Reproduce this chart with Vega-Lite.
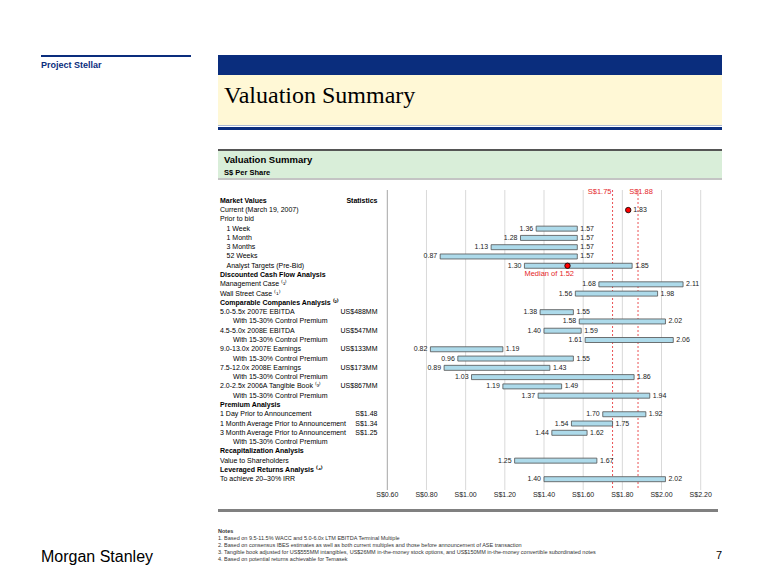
{
  "$schema": "https://vega.github.io/schema/vega-lite/v6.json",
  "background": "white",
  "padding": {"left": 41, "top": 55, "right": 0, "bottom": 0},
  "config": {"view": {"stroke": null}, "font": "Liberation Sans"},
  "datasets": {
    "rows": [
      {"row": 1, "label": "Market Values", "stat": "Statistics", "section": true, "indent": 0},
      {"row": 2, "label": "Current (March 19, 2007)", "indent": 0, "section": false, "point": 1.83},
      {"row": 3, "label": "Prior to bid", "indent": 0, "section": false},
      {"row": 4, "label": "1 Week", "indent": 1, "section": false, "low": 1.36, "high": 1.57},
      {"row": 5, "label": "1 Month", "indent": 1, "section": false, "low": 1.28, "high": 1.57},
      {"row": 6, "label": "3 Months", "indent": 1, "section": false, "low": 1.13, "high": 1.57},
      {"row": 7, "label": "52 Weeks", "indent": 1, "section": false, "low": 0.87, "high": 1.57},
      {"row": 8, "label": "Analyst Targets (Pre-Bid)", "indent": 1, "section": false, "low": 1.30, "high": 1.85, "median": 1.52, "note": "Median of 1.52"},
      {"row": 9, "label": "Discounted Cash Flow Analysis", "indent": 0, "section": true},
      {"row": 10, "label": "Management Case ⁽¹⁾", "indent": 0, "section": false, "low": 1.68, "high": 2.11},
      {"row": 11, "label": "Wall Street Case ⁽¹⁾", "indent": 0, "section": false, "low": 1.56, "high": 1.98},
      {"row": 12, "label": "Comparable Companies Analysis ⁽²⁾", "indent": 0, "section": true},
      {"row": 13, "label": "5.0-5.5x 2007E EBITDA", "stat": "US$488MM", "indent": 0, "section": false, "low": 1.38, "high": 1.55},
      {"row": 14, "label": "With 15-30% Control Premium", "indent": 2, "section": false, "low": 1.58, "high": 2.02},
      {"row": 15, "label": "4.5-5.0x 2008E EBITDA", "stat": "US$547MM", "indent": 0, "section": false, "low": 1.40, "high": 1.59},
      {"row": 16, "label": "With 15-30% Control Premium", "indent": 2, "section": false, "low": 1.61, "high": 2.06},
      {"row": 17, "label": "9.0-13.0x 2007E Earnings", "stat": "US$133MM", "indent": 0, "section": false, "low": 0.82, "high": 1.19},
      {"row": 18, "label": "With 15-30% Control Premium", "indent": 2, "section": false, "low": 0.96, "high": 1.55},
      {"row": 19, "label": "7.5-12.0x 2008E Earnings", "stat": "US$173MM", "indent": 0, "section": false, "low": 0.89, "high": 1.43},
      {"row": 20, "label": "With 15-30% Control Premium", "indent": 2, "section": false, "low": 1.03, "high": 1.86},
      {"row": 21, "label": "2.0-2.5x 2006A Tangible Book ⁽³⁾", "stat": "US$867MM", "indent": 0, "section": false, "low": 1.19, "high": 1.49},
      {"row": 22, "label": "With 15-30% Control Premium", "indent": 2, "section": false, "low": 1.37, "high": 1.94},
      {"row": 23, "label": "Premium Analysis", "indent": 0, "section": true},
      {"row": 24, "label": "1 Day Prior to Announcement", "stat": "S$1.48", "indent": 0, "section": false, "low": 1.70, "high": 1.92},
      {"row": 25, "label": "1 Month Average Prior to Announcement", "stat": "S$1.34", "indent": 0, "section": false, "low": 1.54, "high": 1.75},
      {"row": 26, "label": "3 Month Average Prior to Announcement", "stat": "S$1.25", "indent": 0, "section": false, "low": 1.44, "high": 1.62},
      {"row": 27, "label": "With 15-30% Control Premium", "indent": 2, "section": false},
      {"row": 28, "label": "Recapitalization Analysis", "indent": 0, "section": true},
      {"row": 29, "label": "Value to Shareholders", "indent": 0, "section": false, "low": 1.25, "high": 1.67},
      {"row": 30, "label": "Leveraged Returns Analysis ⁽⁴⁾", "indent": 0, "section": true},
      {"row": 31, "label": "To achieve 20–30% IRR", "indent": 0, "section": false, "low": 1.40, "high": 2.02}
    ],
    "targets": [
      {"price": 1.75, "label": "S$1.75"},
      {"price": 1.88, "label": "S$1.88"}
    ],
    "ticks": [
      {"tick": 0.6, "text": "S$0.60"},
      {"tick": 0.8, "text": "S$0.80"},
      {"tick": 1.0, "text": "S$1.00"},
      {"tick": 1.2, "text": "S$1.20"},
      {"tick": 1.4, "text": "S$1.40"},
      {"tick": 1.6, "text": "S$1.60"},
      {"tick": 1.8, "text": "S$1.80"},
      {"tick": 2.0, "text": "S$2.00"},
      {"tick": 2.2, "text": "S$2.20"}
    ],
    "notes": [
      {"line": 0, "text": "Notes", "head": true},
      {"line": 1, "text": "1.  Based on 9.5-11.5% WACC and 5.0-6.0x LTM EBITDA Terminal Multiple", "head": false},
      {"line": 2, "text": "2.  Based on consensus IBES estimates as well as both current multiples and those before announcement of ASE transaction", "head": false},
      {"line": 3, "text": "3.  Tangible book adjusted for US$555MM intangibles, US$26MM in-the-money stock options, and US$150MM in-the-money convertible subordinated notes", "head": false},
      {"line": 4, "text": "4.  Based on potential returns achievable for Temasek", "head": false}
    ]
  },
  "columns": 2,
  "spacing": 0,
  "bounds": "flush",
  "align": "each",
  "concat": [
    {
      "width": 150, "height": 2,
      "data": {"values": [{"part": "rule"}]},
      "mark": {"type": "rect", "color": "#0A2D7D"},
      "encoding": {},
      "title": {"text": "Project Stellar", "orient": "bottom", "anchor": "start", "offset": 4, "fontSize": 9, "fontWeight": "bold", "color": "#0A2D7D", "font": "Liberation Sans"}
    },
    {
      "width": 504, "height": 20,
      "data": {"values": [{"part": "banner"}]},
      "mark": {"type": "rect", "color": "#0A2D7D"},
      "encoding": {}
    },

    {"width": 177, "height": 1, "data": {"values": []}, "mark": "rect", "encoding": {}},
    {
      "width": 504, "height": 50,
      "view": {"fill": "#FFF8D6"},
      "data": {"values": [{"heading": "Valuation Summary"}]},
      "mark": {"type": "text", "align": "left", "baseline": "middle", "font": "Liberation Serif", "fontSize": 24, "color": "#000000", "dx": 6},
      "encoding": {
        "text": {"field": "heading"},
        "x": {"datum": 0, "type": "quantitative", "scale": {"domain": [0, 1]}, "axis": null},
        "y": {"datum": 0.42, "type": "quantitative", "scale": {"domain": [0, 1], "reverse": true}, "axis": null}
      }
    },

    {"width": 177, "height": 2, "data": {"values": []}, "mark": "rect", "encoding": {}},
    {
      "width": 504, "height": 1,
      "data": {"values": [{"part": "rule"}]},
      "mark": {"type": "rect", "color": "#A9B8D2"},
      "encoding": {}
    },

    {"width": 177, "height": 22, "data": {"values": []}, "mark": "rect", "encoding": {}},
    {
      "width": 504, "height": 3,
      "data": {"values": [{"part": "rule"}]},
      "mark": {"type": "rect", "color": "#0A2D7D"},
      "encoding": {}
    },

    {"width": 177, "height": 1, "data": {"values": []}, "mark": "rect", "encoding": {}},
    {
      "width": 504, "height": 2,
      "data": {"values": [{"part": "rule"}]},
      "mark": {"type": "rect", "color": "#555555"},
      "encoding": {}
    },

    {"width": 177, "height": 1, "data": {"values": []}, "mark": "rect", "encoding": {}},
    {
      "width": 504, "height": 27,
      "view": {"fill": "#D9EED9"},
      "data": {"values": [{"title": "Valuation Summary", "subtitle": "S$ Per Share"}]},
      "layer": [
        {
          "mark": {"type": "text", "align": "left", "baseline": "middle", "fontSize": 9.5, "fontWeight": "bold", "color": "#000000", "dx": 6},
          "encoding": {
            "text": {"field": "title"},
            "x": {"datum": 0, "type": "quantitative", "scale": {"domain": [0, 1]}, "axis": null},
            "y": {"datum": 0.33, "type": "quantitative", "scale": {"domain": [0, 1], "reverse": true}, "axis": null}
          }
        },
        {
          "mark": {"type": "text", "align": "left", "baseline": "middle", "fontSize": 7.5, "fontWeight": "bold", "color": "#000000", "dx": 6},
          "encoding": {
            "text": {"field": "subtitle"},
            "x": {"datum": 0, "type": "quantitative", "scale": {"domain": [0, 1]}, "axis": null},
            "y": {"datum": 0.8, "type": "quantitative", "scale": {"domain": [0, 1], "reverse": true}, "axis": null}
          }
        }
      ]
    },

    {"width": 177, "height": 12, "data": {"values": []}, "mark": "rect", "encoding": {}},
    {
      "width": 504, "height": 2,
      "data": {"values": [{"part": "rule"}]},
      "mark": {"type": "rect", "color": "#C4C4C4"},
      "encoding": {}
    },

    {"width": 177, "height": 319, "data": {"values": []}, "mark": "rect", "encoding": {}},
    {
      "width": 504, "height": 300,
      "resolve": {"scale": {"x": "independent"}},
      "layer": [
        {
          "data": {"name": "rows"},
          "layer": [
            {
              "transform": [{"filter": "!datum.section"}],
              "mark": {"type": "text", "align": "left", "baseline": "middle", "fontSize": 7, "color": "#000000"},
              "encoding": {
                "text": {"field": "label"},
                "x": {"field": "indent", "type": "quantitative", "scale": {"domain": [0, 2], "range": [2, 15]}, "axis": null},
                "y": {"field": "row", "type": "quantitative", "scale": {"domain": [0.375, 31.625], "reverse": true, "nice": false, "zero": false}, "axis": null}
              }
            },
            {
              "transform": [{"filter": "datum.section"}],
              "mark": {"type": "text", "align": "left", "baseline": "middle", "fontSize": 7, "fontWeight": "bold", "color": "#000000"},
              "encoding": {
                "text": {"field": "label"},
                "x": {"field": "indent", "type": "quantitative", "axis": null},
                "y": {"field": "row", "type": "quantitative", "axis": null}
              }
            }
          ]
        },
        {
          "layer": [
            {
              "data": {"name": "ticks"},
              "mark": {"type": "rule", "strokeWidth": 1},
              "encoding": {
                "x": {"field": "tick", "type": "quantitative", "scale": {"domain": [0.6, 2.2], "range": [169.3, 482.7], "nice": false, "zero": false}, "axis": null},
                "color": {"condition": {"test": "datum.tick < 0.65", "value": "#A6A6A6"}, "value": "#D9D9D9"}
              }
            },
            {
              "data": {"name": "ticks"},
              "mark": {"type": "text", "align": "center", "baseline": "middle", "fontSize": 7, "color": "#222222"},
              "encoding": {
                "text": {"field": "text"},
                "x": {"field": "tick", "type": "quantitative", "axis": null},
                "y": {"datum": 32.65, "type": "quantitative", "axis": null}
              }
            },
            {
              "data": {"name": "targets"},
              "mark": {"type": "rule", "color": "#E5262A", "strokeDash": [2, 2], "strokeWidth": 0.8},
              "encoding": {
                "x": {"field": "price", "type": "quantitative", "axis": null}
              }
            },
            {
              "data": {"name": "rows"},
              "transform": [{"filter": "datum.low != null"}],
              "mark": {"type": "bar", "size": 5, "fill": "#ADDAEA", "stroke": "#505050", "strokeWidth": 0.8},
              "encoding": {
                "x": {"field": "low", "type": "quantitative", "axis": null},
                "x2": {"field": "high"},
                "y": {"field": "row", "type": "quantitative", "scale": {"domain": [0.375, 31.625], "reverse": true, "nice": false, "zero": false}, "axis": null}
              }
            },
            {
              "data": {"name": "targets"},
              "transform": [{"filter": "datum.price < 1.8"}],
              "mark": {"type": "text", "align": "right", "baseline": "middle", "fontSize": 7.5, "color": "#E5262A", "dx": -1},
              "encoding": {
                "text": {"field": "label"},
                "x": {"field": "price", "type": "quantitative", "axis": null},
                "y": {"datum": 0, "type": "quantitative", "axis": null}
              }
            },
            {
              "data": {"name": "targets"},
              "transform": [{"filter": "datum.price > 1.8"}],
              "mark": {"type": "text", "align": "center", "baseline": "middle", "fontSize": 7.5, "color": "#E5262A", "dx": 3},
              "encoding": {
                "text": {"field": "label"},
                "x": {"field": "price", "type": "quantitative", "axis": null},
                "y": {"datum": 0, "type": "quantitative", "axis": null}
              }
            },
            {
              "data": {"name": "rows"},
              "transform": [{"filter": "datum.low != null"}],
              "mark": {"type": "text", "align": "right", "baseline": "middle", "fontSize": 7, "color": "#222222", "dx": -3},
              "encoding": {
                "text": {"field": "low", "type": "quantitative", "format": ".2f"},
                "x": {"field": "low", "type": "quantitative", "axis": null},
                "y": {"field": "row", "type": "quantitative", "axis": null}
              }
            },
            {
              "data": {"name": "rows"},
              "transform": [{"filter": "datum.high != null"}],
              "mark": {"type": "text", "align": "left", "baseline": "middle", "fontSize": 7, "color": "#222222", "dx": 3},
              "encoding": {
                "text": {"field": "high", "type": "quantitative", "format": ".2f"},
                "x": {"field": "high", "type": "quantitative", "axis": null},
                "y": {"field": "row", "type": "quantitative", "axis": null}
              }
            },
            {
              "data": {"name": "rows"},
              "transform": [{"filter": "datum.stat != null && !datum.section"}],
              "mark": {"type": "text", "align": "right", "baseline": "middle", "fontSize": 7, "color": "#000000", "dx": -9.8},
              "encoding": {
                "text": {"field": "stat"},
                "x": {"datum": 0.6, "type": "quantitative", "axis": null},
                "y": {"field": "row", "type": "quantitative", "axis": null}
              }
            },
            {
              "data": {"name": "rows"},
              "transform": [{"filter": "datum.stat != null && datum.section"}],
              "mark": {"type": "text", "align": "right", "baseline": "middle", "fontSize": 7, "fontWeight": "bold", "color": "#000000", "dx": -9.8},
              "encoding": {
                "text": {"field": "stat"},
                "x": {"datum": 0.6, "type": "quantitative", "axis": null},
                "y": {"field": "row", "type": "quantitative", "axis": null}
              }
            },
            {
              "data": {"name": "rows"},
              "transform": [{"filter": "datum.point != null"}],
              "layer": [
                {
                  "mark": {"type": "circle", "size": 30, "fill": "#FF0000", "stroke": "#000000", "strokeWidth": 0.8, "opacity": 1},
                  "encoding": {
                    "x": {"field": "point", "type": "quantitative", "axis": null},
                    "y": {"field": "row", "type": "quantitative", "axis": null}
                  }
                },
                {
                  "mark": {"type": "text", "align": "left", "baseline": "middle", "fontSize": 7, "color": "#222222", "dx": 5},
                  "encoding": {
                    "text": {"field": "point", "type": "quantitative", "format": ".2f"},
                    "x": {"field": "point", "type": "quantitative", "axis": null},
                    "y": {"field": "row", "type": "quantitative", "axis": null}
                  }
                }
              ]
            },
            {
              "data": {"name": "rows"},
              "transform": [{"filter": "datum.median != null"}],
              "layer": [
                {
                  "mark": {"type": "circle", "size": 30, "fill": "#FF0000", "stroke": "#000000", "strokeWidth": 0.8, "opacity": 1},
                  "encoding": {
                    "x": {"field": "median", "type": "quantitative", "axis": null},
                    "y": {"field": "row", "type": "quantitative", "axis": null}
                  }
                },
                {
                  "mark": {"type": "text", "align": "left", "baseline": "middle", "fontSize": 7.5, "color": "#E5262A", "dy": 8},
                  "encoding": {
                    "text": {"field": "note"},
                    "x": {"field": "low", "type": "quantitative", "axis": null},
                    "y": {"field": "row", "type": "quantitative", "axis": null}
                  }
                }
              ]
            }
          ]
        }
      ]
    },

    {"width": 177, "height": 18, "data": {"values": []}, "mark": "rect", "encoding": {}},
    {
      "width": 500, "height": 3,
      "data": {"values": [{"part": "rule"}]},
      "mark": {"type": "rect", "color": "#808080"},
      "encoding": {}
    },

    {
      "width": 150, "height": 35,
      "data": {"values": [{"firm": "Morgan Stanley"}]},
      "mark": {"type": "text", "align": "left", "baseline": "alphabetic", "font": "Liberation Sans", "fontSize": 16, "letterSpacing": -0.4, "color": "#000000"},
      "encoding": {
        "text": {"field": "firm"},
        "x": {"datum": 0, "type": "quantitative", "scale": {"domain": [0, 1]}, "axis": null},
        "y": {"datum": 1, "type": "quantitative", "scale": {"domain": [0, 1], "reverse": true}, "axis": null}
      }
    },
    {
      "width": 504, "height": 35,
      "layer": [
        {
          "data": {"name": "notes"},
          "transform": [{"filter": "!datum.head"}],
          "mark": {"type": "text", "align": "left", "baseline": "middle", "fontSize": 5.5, "color": "#333333"},
          "encoding": {
            "text": {"field": "text"},
            "x": {"datum": 0, "type": "quantitative", "scale": {"domain": [0, 1]}, "axis": null},
            "y": {"field": "line", "type": "quantitative", "scale": {"domain": [-0.5, 4.5], "reverse": true, "nice": false, "zero": false}, "axis": null}
          }
        },
        {
          "data": {"name": "notes"},
          "transform": [{"filter": "datum.head"}],
          "mark": {"type": "text", "align": "left", "baseline": "middle", "fontSize": 5.5, "fontWeight": "bold", "color": "#333333"},
          "encoding": {
            "text": {"field": "text"},
            "x": {"datum": 0, "type": "quantitative", "axis": null},
            "y": {"field": "line", "type": "quantitative", "axis": null}
          }
        },
        {
          "data": {"values": [{"page": "7"}]},
          "mark": {"type": "text", "align": "right", "baseline": "middle", "fontSize": 11, "color": "#000000"},
          "encoding": {
            "text": {"field": "page"},
            "x": {"datum": 1, "type": "quantitative", "axis": null},
            "y": {"datum": 3.64, "type": "quantitative", "axis": null}
          }
        }
      ]
    }
  ]
}
